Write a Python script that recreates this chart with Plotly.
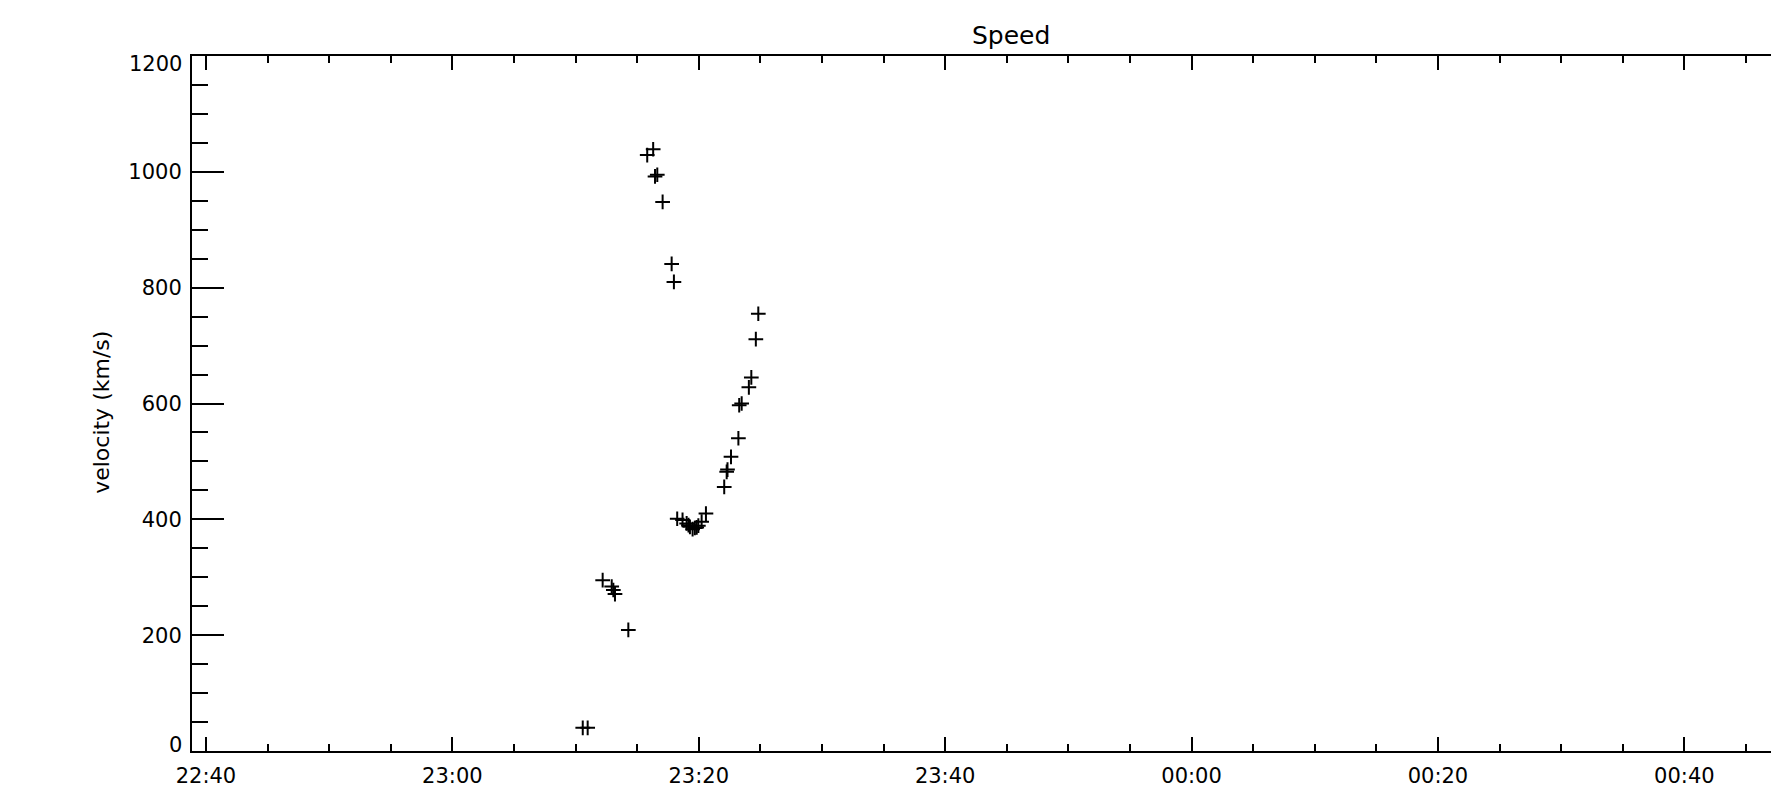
import plotly.graph_objects as go

DAY = "2012-03-07"

times = ["23:10:35", "23:10:59", "23:12:12", "23:12:56", "23:13:04", "23:13:12",
         "23:14:17", "23:15:49", "23:16:18", "23:16:27", "23:16:38", "23:17:04",
         "23:17:48", "23:17:59", "23:18:15", "23:18:41", "23:19:01", "23:19:10",
         "23:19:17", "23:19:30", "23:19:41", "23:19:50", "23:19:58", "23:20:14",
         "23:20:35", "23:22:04", "23:22:16", "23:22:20", "23:22:37", "23:23:13",
         "23:23:17", "23:23:29", "23:24:04", "23:24:16", "23:24:38", "23:24:50"]
velocity = [40, 40, 295, 284, 278, 271,
            209, 1029, 1039, 992, 995, 948,
            841, 810, 401, 399, 393, 390,
            387, 383, 385, 386, 389, 396,
            410, 456, 482, 486, 508, 540,
            597, 600, 628, 645, 711, 755]

y_tickvals = [0, 200, 400, 600, 800, 1000, 1200]
y_ticklabels = ["0", "200", "400", "600", "800", "1000", "1200"]

x_start = DAY + " 22:38:52"
x_end = "2012-03-08 00:47:02"
tick_start = DAY + " 22:40:00"
title_text = "Speed"
ylabel_text = "velocity (km/s)"
xlabel_text = "Start Time (07-Mar-2012 22:38:52)"

xs = [DAY + " " + t for t in times]

fig = go.Figure()
fig.add_trace(go.Scatter(
    x=xs, y=velocity, mode="markers",
    marker=dict(symbol="cross-thin", size=10.5, color="black",
                line=dict(width=2, color="black")),
    showlegend=False, hoverinfo="x+y"))

FONT = "DejaVu Sans"
inner_text = [t if v not in (y_tickvals[0], y_tickvals[-1]) else "" for v, t in zip(y_tickvals, y_ticklabels)]

annotations = [
    dict(text=title_text, xref="paper", yref="paper", x=0.5187, y=1.030,
         xanchor="center", yanchor="middle", showarrow=False,
         font=dict(family=FONT, size=25, color="black")),
    dict(text=ylabel_text, xref="paper", yref="paper", x=-0.057, y=0.488,
         xanchor="center", yanchor="middle", textangle=-90, showarrow=False,
         font=dict(family=FONT, size=22, color="black")),
    dict(text=xlabel_text, xref="paper", yref="paper", x=0.519, y=-0.0535,
         xanchor="center", yanchor="top", showarrow=False,
         font=dict(family=FONT, size=22, color="black")),
    dict(text=y_ticklabels[-1], xref="paper", yref="y", x=0, y=y_tickvals[-1],
         xanchor="right", yanchor="middle", xshift=-8, yshift=-8, showarrow=False,
         font=dict(family=FONT, size=21, color="black")),
    dict(text=y_ticklabels[0], xref="paper", yref="y", x=0, y=y_tickvals[0],
         xanchor="right", yanchor="middle", xshift=-8, yshift=6, showarrow=False,
         font=dict(family=FONT, size=21, color="black")),
]

fig.update_layout(
    width=1771, height=793,
    margin=dict(l=192, r=0, t=56, b=42),
    paper_bgcolor="white", plot_bgcolor="white",
    font=dict(family=FONT, size=22, color="black"),
    xaxis=dict(
        type="date", range=[x_start, x_end],
        tickformat="%H:%M", dtick=1200000, tick0=tick_start,
        ticks="inside", ticklen=14, tickwidth=1.5, tickcolor="black",
        showline=True, linewidth=2, linecolor="black", mirror="ticks",
        showgrid=False, zeroline=False,
        minor=dict(dtick=300000, tick0=tick_start, ticks="inside", ticklen=7,
                   tickwidth=1.5, tickcolor="black", showgrid=False),
        tickfont=dict(family=FONT, size=21, color="black"),
        ticklabelstandoff=5,
    ),
    yaxis=dict(
        range=[0, 1200], tickmode="array", tickvals=y_tickvals, ticktext=inner_text,
        ticks="inside", ticklen=32, tickwidth=1.5, tickcolor="black",
        showline=True, linewidth=2, linecolor="black", mirror=False,
        showgrid=False, zeroline=False,
        minor=dict(dtick=50, tick0=0, ticks="inside", ticklen=16, tickwidth=1.5,
                   tickcolor="black", showgrid=False),
        tickfont=dict(family=FONT, size=21, color="black"),
        ticklabelstandoff=4,
    ),
    annotations=annotations,
)

fig.write_html("out.html")
